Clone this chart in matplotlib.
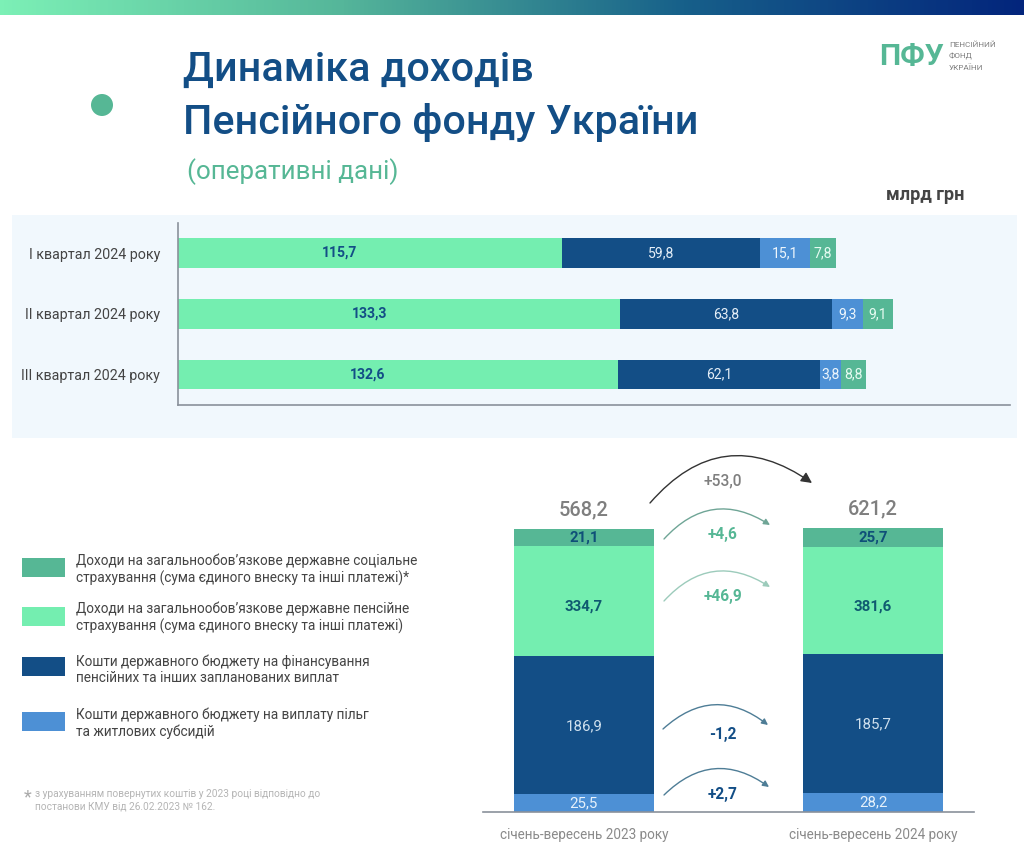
import matplotlib
matplotlib.use("Agg")
import matplotlib.pyplot as plt
import numpy as np
from matplotlib.colors import LinearSegmentedColormap
from matplotlib.patches import Circle, FancyArrowPatch, Rectangle

plt.rcParams['font.family'] = ['Roboto', 'DejaVu Sans']

# top chart, bn UAH per quarter
quarters = ['I квартал 2024 року', 'II квартал 2024 року', 'III квартал 2024 року']
q_pension = [115.7, 133.3, 132.6]
q_budget = [59.8, 63.8, 62.1]
q_benefits = [15.1, 9.3, 3.8]
q_social = [7.8, 9.1, 8.8]

# the III quarter segments are drawn slightly off scale in the source
q_budget_drawn = [59.8, 63.8, 60.9]
q_benefits_drawn = [15.1, 9.3, 6.4]
q_social_drawn = [7.8, 9.1, 7.5]

# bottom chart, printed values
periods = ['січень-вересень 2023 року', 'січень-вересень 2024 року']
totals = [568.2, 621.2]
benefits = [25.5, 28.2]
budget = [186.9, 185.7]
pension = [334.7, 381.6]
social = [21.1, 25.7]

# the segments in the source are not to scale, these are their drawn heights
benefits_drawn = [18.3, 19.6]
budget_drawn = [138.3, 138.4]
pension_drawn = [110.0, 107.6]
social_drawn = [16.7, 18.7]

changes = ['+53,0', '+4,6', '+46,9', '-1,2', '+2,7']

legend_texts = [
    'Доходи на загальнообов’язкове державне соціальне\nстрахування (сума єдиного внеску та інші платежі)*',
    'Доходи на загальнообов’язкове державне пенсійне\nстрахування (сума єдиного внеску та інші платежі)',
    'Кошти державного бюджету на фінансування\nпенсійних та інших запланованих виплат',
    'Кошти державного бюджету на виплату пільг\nта житлових субсидій',
]

TEAL = '#56b795'
GREEN = '#74eeb0'
NAVY = '#134e86'
BLUE = '#4d90d5'
GREY = '#7f7f7f'
W, H = 1024, 858


def px(size):
    # font size given in pixels at dpi 100
    return size * 0.72


def comma(values):
    return [f'{v:.1f}'.replace('.', ',') for v in values]


def axes_px(left, top, right, bottom):
    return fig.add_axes([left / W, 1 - bottom / H, (right - left) / W, (bottom - top) / H])


fig = plt.figure(figsize=(W / 100, H / 100), dpi=100, facecolor='white')

# page background in pixel coordinates
bg = fig.add_axes([0, 0, 1, 1], zorder=0)
bg.axis('off')
cmap = LinearSegmentedColormap.from_list('band', ['#7cf0b6', '#55b69a', '#17608a', '#03257c'])
bg.imshow(np.linspace(0, 1, 512)[None, :], cmap=cmap, extent=[0, W, 15, 0], aspect='auto', zorder=1)
bg.set_xlim(0, W)
bg.set_ylim(H, 0)
bg.add_patch(Rectangle((12, 215), 1005, 223, color='#f1f8fd', lw=0))
bg.add_patch(Circle((102, 105), 11, color=TEAL, lw=0))

bg.text(183, 81, 'Динаміка доходів', fontsize=px(41.2), color=NAVY, weight='medium', va='baseline')
bg.text(183, 134, 'Пенсійного фонду України', fontsize=px(41.2), color=NAVY, weight='medium', va='baseline')
bg.text(187, 172, '(оперативні дані)', fontsize=px(26), color=TEAL, va='center')
bg.text(886, 195, 'млрд грн', fontsize=px(18.2), color='#444444', weight='bold', va='center')

# logo
bg.text(879, 57, 'ПФУ', fontsize=px(30), color=TEAL, weight='bold', va='center')
for y, word in zip([45, 56, 68], ['ПЕНСІЙНИЙ', 'ФОНД', 'УКРАЇНИ']):
    bg.text(949, y, word, fontsize=px(8.1), color=GREY, va='center')

# legend
swatch_y = [558, 607, 657, 712]
legend_y = [570, 617.5, 669.5, 723.5]
for y, text_y, color, label in zip(swatch_y, legend_y, [TEAL, GREEN, NAVY, BLUE], legend_texts):
    bg.add_patch(Rectangle((22, y), 43, 19, color=color, lw=0))
    bg.text(76, text_y, label, fontsize=px(13.6), color='#444444', va='center', linespacing=1.2)

# footnote
bg.text(24, 797, '*', fontsize=px(18), color='#aaaaaa', va='center')
bg.text(35, 800, 'з урахуванням повернутих коштів у 2023 році відповідно до\nпостанови КМУ від 26.02.2023 № 162.',
        fontsize=px(10.1), color='#b5b5b5', va='center', linespacing=1.3)

# top chart
ax = axes_px(178, 223, 1010, 405)
ax.set_zorder(1)
ax.patch.set_visible(False)
y_pos = np.arange(len(quarters))
left = np.zeros(len(quarters))
styles = [(q_pension, q_pension, GREEN, NAVY, 'bold', -30),
          (q_budget, q_budget_drawn, NAVY, '#e4eef7', 'normal', 0),
          (q_benefits, q_benefits_drawn, BLUE, '#eef6fc', 'normal', 0),
          (q_social, q_social_drawn, TEAL, '#e6fbf1', 'normal', 0)]
for values, drawn, color, text_color, weight, shift in styles:
    ax.barh(y_pos, drawn, left=left, height=0.486, color=color)
    for y, l, d, label in zip(y_pos, left, drawn, comma(values)):
        ax.annotate(label, (l + d / 2, y), xytext=(shift, 0), textcoords='offset pixels',
                    ha='center', va='center', color=text_color, fontsize=px(14), fontweight=weight)
    left += np.array(drawn)
ax.set_xlim(0, 250.8)
ax.set_ylim(2.5, -0.494)
ax.set_yticks(y_pos, quarters, fontsize=px(14.3), color='#444444')
ax.set_xticks([])
ax.tick_params(axis='y', length=0, pad=13)
ax.spines[['top', 'right']].set_visible(False)
ax.spines[['left', 'bottom']].set_color('#8a919b')
ax.spines[['left', 'bottom']].set_linewidth(1.2)

# bottom chart
ax2 = axes_px(483, 450, 974, 812.3)
ax2.set_zorder(1)
ax2.patch.set_visible(False)
x_pos = np.arange(len(periods))
bottom = np.zeros(len(periods))
stack = [(benefits, benefits_drawn, BLUE, '#e6f1fb', 'normal', 0),
         (budget, budget_drawn, NAVY, '#cfe0ee', 'normal', 1),
         (pension, pension_drawn, GREEN, '#0f5a70', 'bold', 6),
         (social, social_drawn, TEAL, '#0f4f78', 'bold', 0)]
for values, drawn, color, text_color, weight, shift in stack:
    ax2.bar(x_pos, drawn, bottom=bottom, width=0.484, color=color)
    for x, b, d, label in zip(x_pos, bottom, drawn, comma(values)):
        ax2.text(x, b + d / 2 - shift, label, ha='center', va='center', color=text_color,
                 fontsize=px(15), fontweight=weight)
    bottom += np.array(drawn)
for x, top, total in zip(x_pos, bottom, comma(totals)):
    ax2.text(x, top + 19, total, ha='center', va='center', color=GREY, fontsize=px(20), fontweight='medium')
ax2.set_xlim(-0.349, 1.349)
ax2.set_ylim(0, 362.3)
ax2.set_xticks(x_pos, periods, fontsize=px(13.5), color='#8a8a8a')
ax2.set_yticks([])
ax2.tick_params(axis='x', length=0, pad=11)
ax2.spines[['top', 'right', 'left']].set_visible(False)
ax2.spines['bottom'].set_color('#8a919b')
ax2.spines['bottom'].set_linewidth(1.2)

# change arrows between the bars
arrow_ends = [((650, 503), (812, 483)), ((664, 539), (770, 525)), ((664, 601), (770, 587)),
              ((663, 729), (768, 725)), ((664, 795), (769, 787))]
arrow_colors = ['#333333', '#6fa596', '#9ccbbb', '#4e7d96', '#4e7d96']
arrow_rads = [-0.45, -0.42, -0.42, -0.42, -0.42]
arrow_sizes = [16, 9, 9, 9, 9]
change_y = [481, 534, 597, 735, 795]
change_colors = [GREY, TEAL, TEAL, NAVY, NAVY]
change_weights = ['medium', 'bold', 'bold', 'bold', 'bold']
for (start, end), c, rad, size in zip(arrow_ends, arrow_colors, arrow_rads, arrow_sizes):
    bg.add_patch(FancyArrowPatch(start, end, connectionstyle=f'arc3,rad={rad}', arrowstyle='-|>',
                                 mutation_scale=size, color=c, lw=1.0, shrinkA=0, shrinkB=0))
for y, label, c, weight in zip(change_y, changes, change_colors, change_weights):
    bg.text(723, y, label, ha='center', va='center', color=c, fontsize=px(15.5), fontweight=weight)

fig.savefig('out.png', dpi=100)
